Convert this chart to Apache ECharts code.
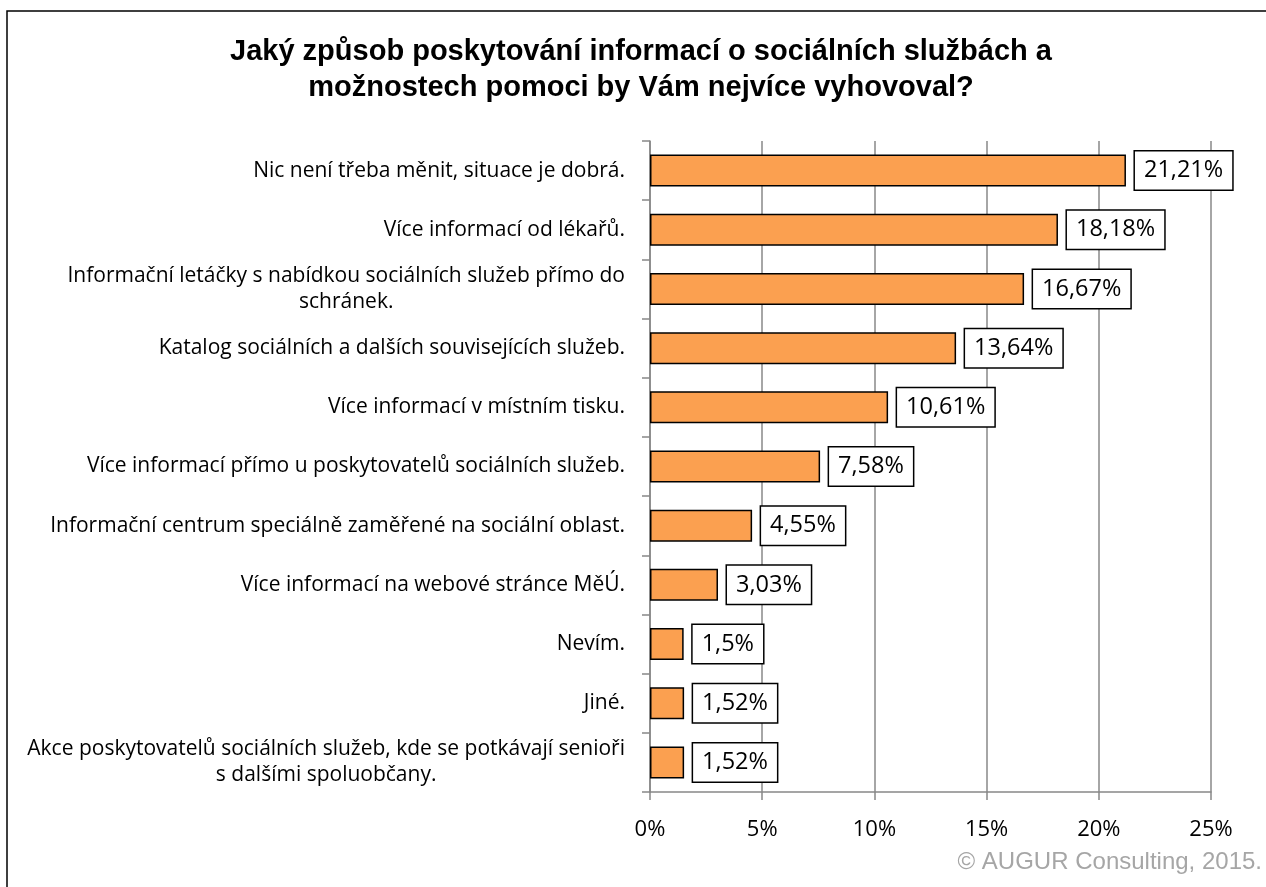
<!DOCTYPE html>
<html><head><meta charset="utf-8">
<script src="https://cdn.jsdelivr.net/npm/echarts@6/dist/echarts.min.js"></script>
<style>html,body{margin:0;padding:0;background:#fff}#c{width:1266px;height:887px}</style>
</head><body><div id="c"></div>
<script>
const categories = [
  "Nic není třeba měnit, situace je dobrá.",
  "Více informací od lékařů.",
  "Informační letáčky s nabídkou sociálních služeb přímo do\nschránek.",
  "Katalog sociálních a dalších souvisejících služeb.",
  "Více informací v místním tisku.",
  "Více informací přímo u poskytovatelů sociálních služeb.",
  "Informační centrum speciálně zaměřené na sociální oblast.",
  "Více informací na webové stránce MěÚ.",
  "Nevím.",
  "Jiné.",
  "Akce poskytovatelů sociálních služeb, kde se potkávají senioři\ns dalšími spoluobčany."
];
const values = [21.21, 18.18, 16.67, 13.64, 10.61, 7.58, 4.55, 3.03, 1.5, 1.52, 1.52];
const xTicks = [0, 5, 10, 15, 20, 25];
const titleText = "Jaký způsob poskytování informací o sociálních službách a\nmožnostech pomoci by Vám nejvíce vyhovoval?";
const copyright = "© AUGUR Consulting, 2015.";

const chart = echarts.init(document.getElementById('c'));
const lblFont = "'Open Sans', sans-serif";
function catFormatter(v) {
  const lines = v.split('\n');
  if (lines.length === 1) return '{r|' + v + '}';
  return lines.map(l => '{c|' + l + '}').join('\n');
}
const richBase = {fontFamily: lblFont, fontSize: 21, color: '#000', lineHeight: 26};
chart.setOption({
  animation: false,
  graphic: [
    {type: 'rect', shape: {x: 7, y: 11, width: 1300, height: 900}, style: {fill: 'none', stroke: '#000', lineWidth: 1.5}, silent: true},
    {type: 'text', x: 641, y: 34, style: {text: titleText, align: 'center', verticalAlign: 'top', lineHeight: 36, fontFamily: "'Liberation Sans', Arial, sans-serif", fontWeight: 'bold', fontSize: 29, fill: '#000'}},
    {type: 'text', x: 1262, y: 862, style: {text: copyright, align: 'right', verticalAlign: 'middle', fontFamily: "'Liberation Sans', Arial, sans-serif", fontSize: 24, fill: '#a6a6a6'}}
  ],
  grid: {left: 650, right: 55, top: 141, bottom: 95, containLabel: false},
  xAxis: {
    type: 'value', min: xTicks[0], max: xTicks[xTicks.length - 1], interval: xTicks[1] - xTicks[0],
    axisLine: {show: true, lineStyle: {color: '#888', width: 1.5}},
    axisTick: {show: true, length: 8, lineStyle: {color: '#888', width: 1.5}},
    splitLine: {show: true, lineStyle: {color: '#888', width: 1.5}},
    axisLabel: {formatter: '{value}%', fontFamily: lblFont, fontSize: 22, color: '#000', margin: 27}
  },
  yAxis: {
    type: 'category', data: categories, inverse: true,
    axisLine: {show: true, lineStyle: {color: '#888', width: 1.5}},
    axisTick: {show: true, length: 8, alignWithLabel: false, lineStyle: {color: '#888', width: 1.5}},
    axisLabel: {
      formatter: catFormatter, margin: 25, interval: 0,
      rich: {
        r: Object.assign({align: 'right'}, richBase),
        c: Object.assign({align: 'center'}, richBase)
      }
    }
  },
  series: [{
    type: 'bar', data: values, barWidth: 32,
    itemStyle: {color: '#FBA050', borderColor: '#000', borderWidth: 1.5},
    label: {
      show: true, position: 'right', distance: 9,
      formatter: p => String(p.value).replace('.', ',') + '%',
      fontFamily: lblFont, fontSize: 23.5, lineHeight: 26, color: '#000',
      backgroundColor: '#fff', borderColor: '#000', borderWidth: 1.5, padding: [6, 9, 6, 9]
    }
  }]
});
</script></body></html>
